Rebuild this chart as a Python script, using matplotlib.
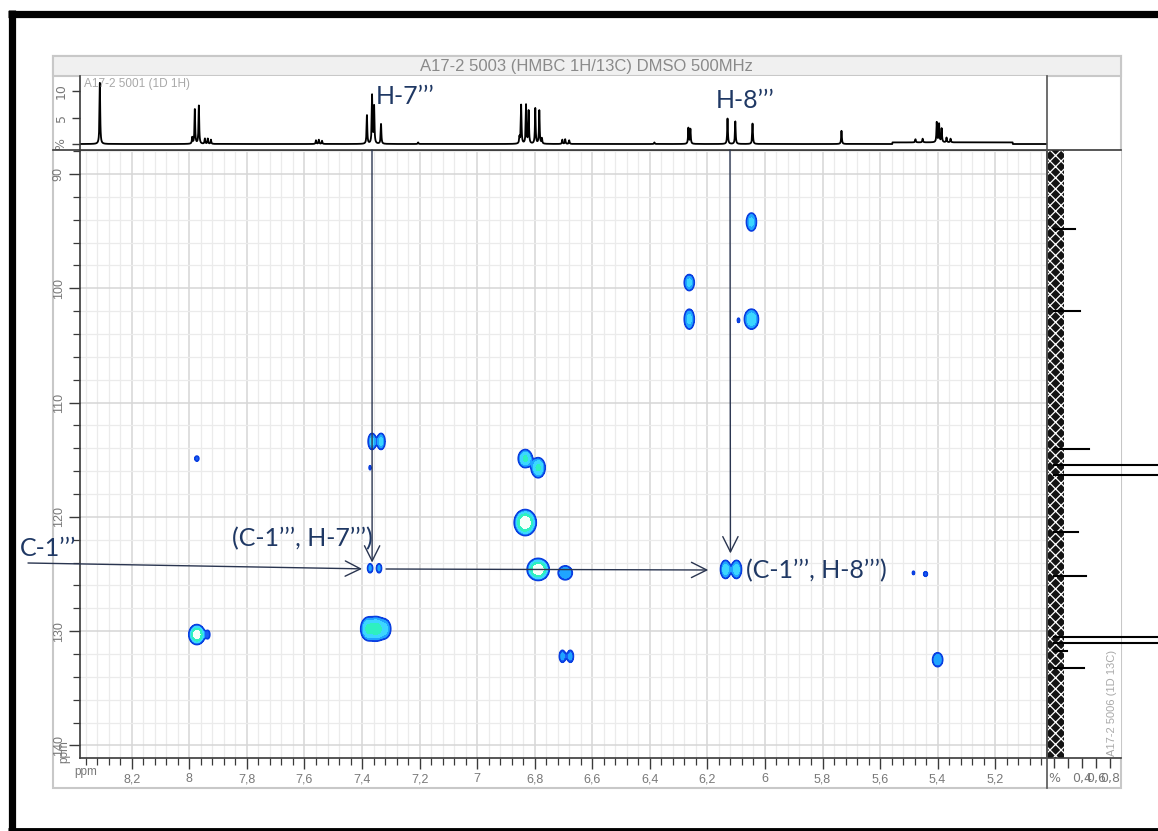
import numpy as np
import matplotlib
matplotlib.use("Agg")
import matplotlib.pyplot as plt
from matplotlib.patches import Rectangle
from matplotlib.ticker import MultipleLocator

plt.rcParams["hatch.linewidth"] = 0.9

# ---------------- data ----------------
title = "A17-2 5003 (HMBC 1H/13C) DMSO 500MHz"
label_1h = "A17-2 5001 (1D 1H)"
label_13c = "A17-2 5006 (1D 13C)"

# 1H projection (top trace): shifts (ppm) and heights (%)
h1_shift = [8.311, 7.990, 7.981, 7.967, 7.946, 7.936, 7.925,
            7.560, 7.550, 7.539,
            7.383, 7.365, 7.358, 7.334, 7.205,
            6.853, 6.847, 6.830, 6.821, 6.798, 6.784, 6.775,
            6.704, 6.694, 6.680, 6.384, 6.266, 6.259,
            6.130, 6.103, 6.043, 5.734, 5.477, 5.452,
            5.403, 5.395, 5.386, 5.369, 5.355]
h1_height = [11.7, 1.2, 6.5, 7.2, 1.0, 1.0, 0.8,
             0.7, 0.8, 0.6,
             5.4, 9.2, 7.0, 3.8, 0.3,
             1.2, 7.4, 7.4, 6.2, 6.7, 6.3, 1.0,
             0.8, 0.9, 0.7, 0.3, 3.0, 2.8,
             4.8, 4.3, 3.9, 2.5, 0.6, 0.7,
             3.8, 3.5, 2.6, 0.9, 0.7]
h1_hump = [5.557, 5.139]
h1_hump_level = 0.3

# 13C projection (right trace): shifts (ppm) and intensities (%)
c13_shift = [94.84, 102.0, 114.1, 115.5, 116.3, 121.3, 125.2, 130.5, 131.0, 131.7, 133.2]
c13_height = [0.30, 0.37, 0.50, 1.6, 1.6, 0.34, 0.46, 1.6, 1.6, 0.18, 0.43]
c13_noise = 0.14

# HMBC cross peaks: 1H shift, 13C shift, amplitude, widths (ppm)
hmbc_H = [7.974, 7.974, 7.936, 7.365, 7.334, 7.372, 7.372, 7.341, 7.378, 7.350, 7.322,
          6.833, 6.788, 6.833, 6.788, 6.694, 6.704, 6.676, 6.263, 6.263, 6.047, 6.047, 6.092,
          6.137, 6.099, 5.484, 5.442, 5.400]
hmbc_C = [114.9, 130.3, 130.3, 113.4, 113.4, 115.7, 124.5, 124.5, 129.8, 129.8, 129.8,
          114.9, 115.7, 120.5, 124.6, 124.9, 132.2, 132.2, 99.5, 102.7, 94.2, 102.7, 102.8,
          124.6, 124.6, 124.9, 125.0, 132.5]
hmbc_amp = [1.6, 25, 1.5, 4, 4, 1.3, 2, 2, 8, 9, 4,
            8, 8, 30, 30, 3, 2, 2, 4, 4, 4, 6, 1.3,
            5, 5, 1.3, 1.5, 3]
hmbc_wH = [0.0072, 0.011, 0.0077, 0.0083, 0.0083, 0.0048, 0.0074, 0.0074, 0.013, 0.013, 0.013,
           0.0119, 0.0119, 0.0147, 0.0147, 0.0165, 0.0088, 0.0088, 0.0104, 0.0104, 0.0104, 0.0129, 0.005,
           0.0097, 0.0097, 0.005, 0.007, 0.0118]
hmbc_wC = [0.225, 0.344, 0.39, 0.42, 0.42, 0.24, 0.33, 0.33, 0.5, 0.5, 0.5,
           0.386, 0.43, 0.436, 0.37, 0.41, 0.44, 0.44, 0.42, 0.52, 0.47, 0.46, 0.25,
           0.44, 0.44, 0.2, 0.22, 0.41]

x_ticks = [8.2, 8.0, 7.8, 7.6, 7.4, 7.2, 7.0, 6.8, 6.6, 6.4, 6.2, 6.0, 5.8, 5.6, 5.4, 5.2]
x_labels = ["8,2", "8", "7,8", "7,6", "7,4", "7,2", "7", "6,8", "6,6", "6,4", "6,2", "6",
            "5,8", "5,6", "5,4", "5,2"]
y_ticks = [90, 100, 110, 120, 130, 140]
y_labels = ["90", "100", "110", "120", "130", "140"]
r_ticks = [0.0, 0.2, 0.4, 0.6, 0.8]
r_labels = ["%", "", "0,4", "0,6", "0,8"]

# ---------------- figure ----------------
W, H = 1158, 831
fig = plt.figure(figsize=(W / 100, H / 100), dpi=100)
fig.patch.set_facecolor("white")


def frac(x0, y0, x1, y1):
    return [x0 / W, 1 - y1 / H, (x1 - x0) / W, (y1 - y0) / H]


GRAYTXT = "#787878"
SPINE = "#3a3a3a"
NAVY = "#1f3864"
XLIM = (8.38, 5.02)
YLIM = (141.1, 87.9)

bg = fig.add_axes([0, 0, 1, 1], zorder=0)
bg.set_xlim(0, W); bg.set_ylim(H, 0); bg.axis("off")
# outer black frame
bg.plot([8, W], [13.5, 13.5], color="black", lw=5.2, solid_capstyle="butt")
bg.plot([11.5, 11.5], [10, H], color="black", lw=5.2, solid_capstyle="butt")
bg.plot([8, W], [829.5, 829.5], color="black", lw=3.5, solid_capstyle="butt")
# application window
bg.add_patch(Rectangle((53, 56), 1068, 732, facecolor="white", edgecolor="#c8c8c8", lw=1.5))
bg.add_patch(Rectangle((53, 56), 1068, 20, facecolor="#f0f0f0", edgecolor="#c8c8c8", lw=1.5))
bg.text(586, 66.5, title, ha="center", va="center", fontsize=12, color="#8a8a8a",
        family="Liberation Sans")

# ---------------- main 2D panel ----------------
ax = fig.add_axes(frac(80, 150, 1047, 758), zorder=2)
ax.set_facecolor("white")
hx = np.linspace(5.0, 8.4, 3400)
cy = np.linspace(87.5, 141.5, 1100)
Z = np.zeros((cy.size, hx.size))
for h, c, a, wh, wc in zip(hmbc_H, hmbc_C, hmbc_amp, hmbc_wH, hmbc_wC):
    gx = np.exp(-0.5 * ((hx - h) / wh) ** 2)
    gy = np.exp(-0.5 * ((cy - c) / wc) ** 2)
    Z += a * np.outer(gy, gx)
levels = [1.0, 1.6, 3.0, 6.5, 15.0, 1e6]
cols = ["#1a5ef5", "#1fa4ff", "#3cd6ff", "#2ef0c0", "#f5fffa"]
ax.contourf(hx, cy, Z, levels=levels, colors=cols, zorder=3)
ax.contour(hx, cy, Z, levels=[1.0], colors=["#0a3fe0"], linewidths=1.2, zorder=4)
ax.set_xlim(*XLIM); ax.set_ylim(*YLIM)
ax.set_xticks(x_ticks); ax.set_xticklabels(x_labels)
ax.set_yticks(y_ticks); ax.set_yticklabels(y_labels)
ax.xaxis.set_minor_locator(MultipleLocator(0.04))
ax.yaxis.set_minor_locator(MultipleLocator(2))
ax.set_axisbelow(True)
ax.grid(which="minor", color="#ebebeb", lw=0.9)
ax.grid(which="major", color="#d6d6d6", lw=1.1)
ax.tick_params(axis="both", which="major", direction="out", length=8, width=1.0, color=SPINE,
               labelsize=9, labelcolor=GRAYTXT, pad=3)
ax.tick_params(axis="both", which="minor", direction="out", length=5, width=0.9, color=SPINE)
ax.tick_params(axis="y", labelrotation=90)
for t in ax.get_yticklabels():
    t.set_va("center")
    t.set_family("Liberation Sans")
for t in ax.get_xticklabels():
    t.set_family("Liberation Sans")
for s in ax.spines.values():
    s.set_color(SPINE); s.set_linewidth(1.2)

# ---------------- top 1H trace ----------------
axt = fig.add_axes(frac(80, 76, 1047, 150), zorder=2)
axt.set_facecolor("white")
xs = np.linspace(5.0, 8.4, 9000)
hw = 0.0014
spec = np.where((xs <= h1_hump[0]) & (xs >= h1_hump[1]), h1_hump_level, 0.0)
for p, hgt in zip(h1_shift, h1_height):
    spec = spec + hgt * hw ** 2 / ((xs - p) ** 2 + hw ** 2)
axt.plot(xs, spec, color="black", lw=1.3)
axt.set_xlim(*XLIM); axt.set_ylim(-1.13, 12.83)
axt.set_xticks([])
axt.set_yticks([0, 5, 10]); axt.set_yticklabels(["%", "5", "10"])
axt.tick_params(axis="y", direction="out", length=6, width=1.0, color=SPINE, labelsize=9,
                labelcolor=GRAYTXT, labelrotation=90, pad=3)
for t in axt.get_yticklabels():
    t.set_va("center")
for k in ["top", "right", "bottom"]:
    axt.spines[k].set_visible(False)
axt.spines["left"].set_color(SPINE); axt.spines["left"].set_linewidth(1.2)
axt.text(0.004, 0.89, label_1h, transform=axt.transAxes, fontsize=8.5, color="#a8a8a8",
         va="center", ha="left", family="Liberation Sans")

# ---------------- right 13C trace ----------------
axr = fig.add_axes(frac(1047, 150, 1121, 758), zorder=2)
axr.set_facecolor("white")
axr.set_xlim(-0.1, 0.957); axr.set_ylim(*YLIM)
axr.add_patch(Rectangle((-0.1, YLIM[1]), 0.1 + c13_noise, YLIM[0] - YLIM[1], facecolor="#141414",
                        edgecolor="white", hatch="xxx", lw=0, zorder=2))
for c, v in zip(c13_shift, c13_height):
    axr.plot([0, v], [c, c], color="black", lw=1.5, clip_on=False, zorder=3)
axr.set_yticks([])
axr.set_xticks(r_ticks); axr.set_xticklabels(r_labels)
axr.tick_params(axis="x", direction="out", length=7, width=1.0, color=SPINE, labelsize=9,
                labelcolor=GRAYTXT, pad=3)
axr.spines["top"].set_visible(False); axr.spines["right"].set_visible(False)
for k in ["left", "bottom"]:
    axr.spines[k].set_color(SPINE); axr.spines[k].set_linewidth(1.2)
axr.text(0.88, 0.09, label_13c, transform=axr.transAxes, rotation=90, fontsize=8,
         color="#a8a8a8", ha="center", va="center", family="Liberation Sans")

# ---------------- overlay: structure lines, labels, arrows ----------------
ov = fig.add_axes([0, 0, 1, 1], zorder=10)
ov.set_xlim(0, W); ov.set_ylim(H, 0); ov.axis("off"); ov.patch.set_alpha(0)
ov.plot([53, 1121], [150, 150], color=SPINE, lw=1.2)
ov.plot([1047, 1047], [76, 788], color="#555555", lw=1.2)
ov.text(86, 772, "ppm", fontsize=8.5, color=GRAYTXT, ha="center", va="center",
        family="Liberation Sans")
ov.text(64, 752, "ppm", fontsize=8.5, color=GRAYTXT, ha="center", va="center", rotation=90,
        family="Liberation Sans")

afont = dict(fontsize=18, color=NAVY, family="Lato", va="center")
ov.text(376, 97, "H-7\u2019\u2019\u2019", ha="left", **afont)
ov.text(716, 100, "H-8\u2019\u2019\u2019", ha="left", **afont)
ov.text(20, 549, "C-1\u2019\u2019\u2019", ha="left", **afont)
ov.text(232, 539, "(C-1\u2019\u2019\u2019, H-7\u2019\u2019\u2019)", ha="left", **afont)
ov.text(746, 571, "(C-1\u2019\u2019\u2019, H-8\u2019\u2019\u2019)", ha="left", **afont)

aprops = dict(arrowstyle="->,head_length=1.1,head_width=0.55", color="#2a3550", lw=1.0,
              shrinkA=0, shrinkB=0, mutation_scale=10)
ov.annotate("", xy=(7.365, 124.0), xycoords=ax.transData, xytext=(372, 150),
            textcoords="data", arrowprops=aprops)
ov.annotate("", xy=(6.12, 123.2), xycoords=ax.transData, xytext=(730, 150),
            textcoords="data", arrowprops=aprops)
ov.annotate("", xy=(7.40, 124.55), xycoords=ax.transData, xytext=(28, 563),
            textcoords="data", arrowprops=aprops)
ov.annotate("", xy=(6.197, 124.65), xycoords=ax.transData, xytext=(386, 569),
            textcoords="data", arrowprops=aprops)

fig.savefig("out.png", dpi=100, facecolor="white")
